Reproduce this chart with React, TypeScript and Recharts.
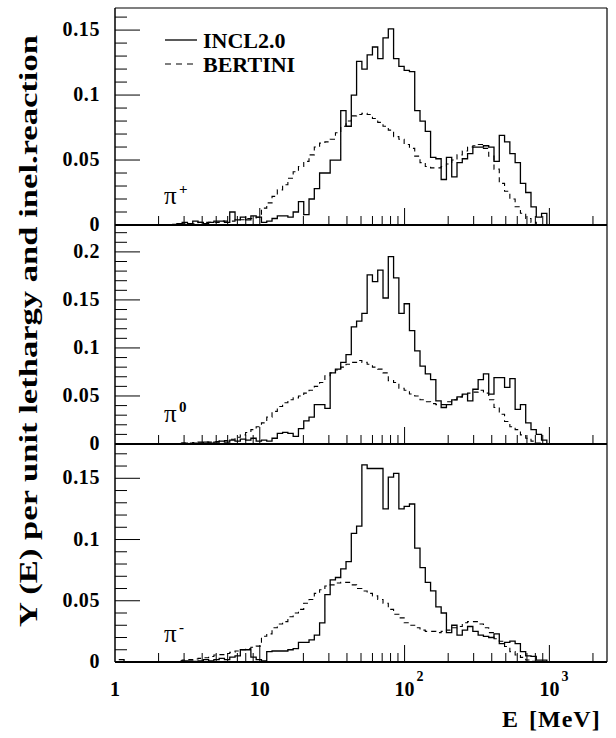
import React from 'react';
import { LineChart, Line, XAxis, YAxis, ReferenceLine } from 'recharts';

// Histogram binning: equal widths in log10(E), first lower edge at 10^LOG_E_START MeV
const LOG_E_START = 0.026;
const LOG_BIN = 0.0365;
const E_MIN = 1;
const E_MAX = 2500;

const X_TICKS = [1, 2, 3, 4, 5, 6, 7, 8, 9, 10, 20, 30, 40, 50, 60, 70, 80, 90, 100, 200, 300, 400, 500, 600, 700, 800, 900, 1000, 2000];
const X_LABELS: Record<number, [string, string]> = { 1: ['1', ''], 10: ['10', ''], 100: ['10', '2'], 1000: ['10', '3'] };

// pi+ yields per unit lethargy, bins 0..81
const piPlusIncl = [
  0, 0, 0, 0, 0, 0, 0, 0, 0, 0,
  0, 0.001, 0.002, 0.001, 0.003, 0.002, 0.001, 0.002, 0.003, 0.003,
  0.002, 0.010, 0.004, 0.006, 0.004, 0.007, 0.006, 0.002, 0.003, 0.005,
  0.007, 0.007, 0.006, 0.010, 0.018, 0.008, 0.020, 0.028, 0.040, 0.040,
  0.050, 0.050, 0.088, 0.076, 0.100, 0.126, 0.120, 0.131, 0.137, 0.128,
  0.144, 0.151, 0.128, 0.122, 0.119, 0.118, 0.088, 0.080, 0.072, 0.052,
  0.051, 0.035, 0.052, 0.037, 0.048, 0.051, 0.055, 0.060, 0.060, 0.061,
  0.060, 0.049, 0.069, 0.064, 0.055, 0.048, 0.032, 0.025, 0.014, 0.006,
  0.009, 0,
];
const piPlusBert = [
  0, 0, 0, 0, 0, 0, 0, 0, 0, 0,
  0.0005, 0.001, 0.001, 0.001, 0.001, 0.002, 0.002, 0.002, 0.002, 0.003,
  0.003, 0.003, 0.004, 0.004, 0.005, 0.005, 0.006, 0.013, 0.017, 0.022,
  0.027, 0.031, 0.036, 0.041, 0.045, 0.049, 0.054, 0.060, 0.063, 0.064,
  0.066, 0.071, 0.076, 0.080, 0.084, 0.085, 0.086, 0.085, 0.082, 0.079,
  0.076, 0.073, 0.068, 0.066, 0.062, 0.059, 0.053, 0.048, 0.045, 0.044,
  0.044, 0.045, 0.047, 0.050, 0.054, 0.057, 0.060, 0.061, 0.062, 0.059,
  0.053, 0.043, 0.032, 0.026, 0.020, 0.014, 0.009, 0.005, 0.002, 0,
  0, 0,
];

// pi0
const piZeroIncl = [
  0, 0, 0, 0, 0, 0, 0, 0, 0, 0,
  0, 0, 0.001, 0, 0.001, 0.001, 0.002, 0.001, 0.002, 0.003,
  0.002, 0.004, 0.003, 0.005, 0.004, 0.006, 0.003, 0.004, 0.003, 0.006,
  0.011, 0.012, 0.011, 0.008, 0.016, 0.024, 0.028, 0.041, 0.041, 0.037,
  0.074, 0.078, 0.085, 0.093, 0.122, 0.128, 0.136, 0.176, 0.169, 0.181,
  0.152, 0.195, 0.173, 0.136, 0.146, 0.118, 0.097, 0.081, 0.073, 0.067,
  0.045, 0.038, 0.041, 0.046, 0.049, 0.052, 0.045, 0.057, 0.067, 0.073,
  0.052, 0.069, 0.069, 0.059, 0.068, 0.036, 0.041, 0.022, 0.015, 0.010,
  0.004, 0,
];
const piZeroBert = [
  0, 0, 0, 0, 0, 0, 0, 0, 0, 0,
  0.0005, 0.001, 0.001, 0.001, 0.0015, 0.002, 0.002, 0.002, 0.0025, 0.003,
  0.0035, 0.005, 0.007, 0.0095, 0.012, 0.015, 0.018, 0.022, 0.028, 0.034,
  0.039, 0.043, 0.046, 0.048, 0.050, 0.053, 0.056, 0.060, 0.064, 0.071,
  0.074, 0.077, 0.080, 0.083, 0.085, 0.087, 0.085, 0.083, 0.080, 0.078,
  0.074, 0.066, 0.064, 0.058, 0.056, 0.052, 0.050, 0.046, 0.044, 0.042,
  0.041, 0.041, 0.044, 0.046, 0.049, 0.051, 0.053, 0.054, 0.056, 0.053,
  0.046, 0.038, 0.031, 0.0235, 0.018, 0.015, 0.0095, 0.006, 0.003, 0.001,
  0, 0,
];

// pi-
const piMinusIncl = [
  0.002, 0, 0, 0, 0, 0, 0, 0, 0, 0,
  0, 0, 0.001, 0.001, 0.0005, 0.001, 0.002, 0.001, 0.002, 0.003,
  0.002, 0.004, 0.005, 0.010, 0.010, 0.004, 0.002, 0.001, 0.0085, 0.009,
  0.009, 0.009, 0.010, 0.011, 0.016, 0.016, 0.018, 0.022, 0.032, 0.055,
  0.067, 0.069, 0.076, 0.082, 0.105, 0.111, 0.161, 0.158, 0.158, 0.158,
  0.125, 0.151, 0.154, 0.125, 0.127, 0.129, 0.093, 0.077, 0.065, 0.058,
  0.045, 0.040, 0.024, 0.030, 0.022, 0.026, 0.029, 0.025, 0.022, 0.021,
  0.020, 0.023, 0.015, 0.016, 0.017, 0.015, 0.0085, 0.005, 0.0046, 0.0016,
  0.0016, 0,
];
const piMinusBert = [
  0, 0, 0, 0, 0, 0, 0, 0, 0, 0,
  0.0003, 0.001, 0.0016, 0.002, 0.0025, 0.003, 0.0035, 0.0045, 0.0057, 0.006,
  0.007, 0.008, 0.009, 0.010, 0.011, 0.012, 0.013, 0.021, 0.023, 0.028,
  0.031, 0.033, 0.037, 0.040, 0.043, 0.048, 0.051, 0.056, 0.059, 0.062,
  0.063, 0.0645, 0.065, 0.065, 0.063, 0.060, 0.058, 0.056, 0.054, 0.051,
  0.048, 0.043, 0.039, 0.036, 0.032, 0.030, 0.028, 0.026, 0.025, 0.025,
  0.024, 0.025, 0.026, 0.028, 0.029, 0.032, 0.033, 0.033, 0.031, 0.028,
  0.024, 0.019, 0.017, 0.0126, 0.0085, 0.0057, 0.0038, 0.0016, 0.0005, 0,
  0, 0,
];

const FONT = '"Liberation Serif", "Times New Roman", serif';
const PLOT_LEFT = 115;
const PLOT_RIGHT = 607;
const PAD = 10;

function histogramRows(incl: number[], bert: number[]) {
  const rows = incl.map((v, k) => ({ e: Math.pow(10, LOG_E_START + k * LOG_BIN), incl: v, bert: bert[k] }));
  rows.push({ e: Math.pow(10, LOG_E_START + incl.length * LOG_BIN), incl: 0, bert: 0 });
  return rows;
}

function yTickValues(yMax: number) {
  const out: number[] = [];
  for (let i = 0; i * 0.01 <= yMax + 1e-9; i++) out.push(Number((i * 0.01).toFixed(2)));
  return out;
}

const YTick = (props: any) => {
  const { x, y, payload } = props;
  const v = payload.value as number;
  const major = Math.abs(v / 0.05 - Math.round(v / 0.05)) < 1e-6;
  return (
    <g>
      <line x1={x} y1={y} x2={x + (major ? 25 : 12)} y2={y} stroke="#000" strokeWidth={1} />
      {major && (
        <text x={x - 15} y={y + 6} textAnchor="end" fontFamily={FONT} fontWeight="bold" fontSize={20} letterSpacing={0.6} fill="#000">
          {String(Number(v.toFixed(2)))}
        </text>
      )}
    </g>
  );
};

const makeXTick = (withLabels: boolean) => (props: any) => {
  const { x, y, payload } = props;
  const v = payload.value as number;
  const decade = v === 10 || v === 100 || v === 1000;
  const lab = X_LABELS[v];
  return (
    <g>
      {v !== 1 && <line x1={x} y1={y} x2={x} y2={y - (decade ? 17 : 9)} stroke="#000" strokeWidth={1} />}
      {withLabels && lab && (
        <g fontFamily={FONT} fontWeight="bold" fill="#000">
          <text x={x} y={y + 34} textAnchor="middle" fontSize={20}>{lab[0]}</text>
          {lab[1] && <text x={x + 12} y={y + 19} fontSize={14}>{lab[1]}</text>}
        </g>
      )}
    </g>
  );
};

type PanelProps = {
  plotTop: number;
  plotHeight: number;
  yMax: number;
  incl: number[];
  bert: number[];
  topBorder?: boolean;
  bottomLabels?: boolean;
};

function Panel({ plotTop, plotHeight, yMax, incl, bert, topBorder, bottomLabels }: PanelProps) {
  const rows = histogramRows(incl, bert);
  const axisH = bottomLabels ? 738 - plotTop - plotHeight : PAD;
  const h = PAD + plotHeight + axisH;
  return (
    <div style={{ position: 'absolute', left: 0, top: plotTop - PAD }}>
      <LineChart width={616} height={h} data={rows} margin={{ top: PAD, right: 616 - PLOT_RIGHT, bottom: 0, left: 0 }}>
        <XAxis
          dataKey="e"
          type="number"
          scale="log"
          domain={[E_MIN, E_MAX]}
          allowDataOverflow
          ticks={X_TICKS}
          interval={0}
          height={axisH}
          tickSize={0}
          tickMargin={0}
          tickLine={false}
          axisLine={{ stroke: '#000', strokeWidth: 2 }}
          tick={makeXTick(!!bottomLabels)}
        />
        <YAxis
          type="number"
          domain={[0, yMax]}
          allowDataOverflow
          ticks={yTickValues(yMax)}
          interval={0}
          width={PLOT_LEFT}
          tickSize={0}
          tickMargin={0}
          tickLine={false}
          axisLine={{ stroke: '#000', strokeWidth: 1.5 }}
          tick={<YTick />}
        />
        <ReferenceLine x={E_MAX} stroke="#000" strokeWidth={1.2} ifOverflow="extendDomain" />
        {topBorder && <ReferenceLine y={yMax} stroke="#000" strokeWidth={1.2} />}
        <Line dataKey="bert" type="stepAfter" stroke="#000" strokeWidth={1.1} strokeDasharray="5 4" dot={false} isAnimationActive={false} />
        <Line dataKey="incl" type="stepAfter" stroke="#000" strokeWidth={1.3} dot={false} isAnimationActive={false} />
      </LineChart>
    </div>
  );
}

function PionLabel({ x, y, sup }: { x: number; y: number; sup: string }) {
  return (
    <g fill="#000" fontFamily={FONT}>
      <text x={x} y={y} fontSize={25}>π</text>
      <text x={x + 15} y={y - 10} fontSize={15} fontWeight="bold">{sup}</text>
    </g>
  );
}

export default function App() {
  return (
    <div style={{ position: 'absolute', left: 0, top: 0, width: 616, height: 738, background: '#fff' }}>
      <Panel plotTop={8} plotHeight={217} yMax={0.167} incl={piPlusIncl} bert={piPlusBert} topBorder />
      <Panel plotTop={225} plotHeight={219} yMax={0.228} incl={piZeroIncl} bert={piZeroBert} />
      <Panel plotTop={444} plotHeight={218} yMax={0.178} incl={piMinusIncl} bert={piMinusBert} bottomLabels />
      <svg width={616} height={738} style={{ position: 'absolute', left: 0, top: 0, pointerEvents: 'none' }}>
        <text
          transform="translate(37,331) rotate(-90)"
          textAnchor="middle"
          fontFamily={FONT}
          fontWeight="bold"
          fontSize={25}
          textLength={592}
          lengthAdjust="spacingAndGlyphs"
          fill="#000"
        >
          Y (E) per unit lethargy and inel.reaction
        </text>
        <g fontFamily={FONT} fontWeight="bold" fontSize={24} fill="#000">
          <text x={502} y={727}>E</text>
          <text x={529} y={727} letterSpacing={1}>[MeV]</text>
        </g>
        <line x1={165} y1={40} x2={197} y2={40} stroke="#000" strokeWidth={1.3} />
        <line x1={165} y1={64} x2={197} y2={64} stroke="#000" strokeWidth={1.1} strokeDasharray="6 5" />
        <g fontFamily={FONT} fontWeight="bold" fontSize={22} fill="#000">
          <text x={203} y={48}>INCL2.0</text>
          <text x={203} y={72}>BERTINI</text>
        </g>
        <PionLabel x={164} y={204} sup="+" />
        <PionLabel x={164} y={422} sup="0" />
        <PionLabel x={164} y={642} sup="-" />
      </svg>
    </div>
  );
}
